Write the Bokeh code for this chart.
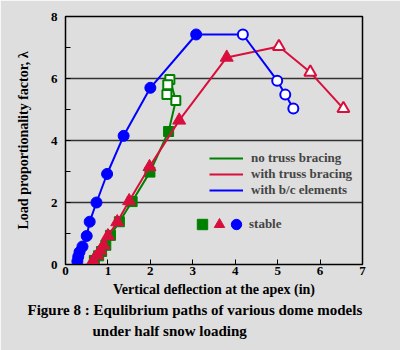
from bokeh.plotting import figure
from bokeh.models import Legend, LegendItem, Title, FixedTicker, Range1d
from bokeh.embed import file_html
from bokeh.resources import INLINE

# ---- data ----
green_x = [0.68, 0.78, 0.85, 0.95, 1.06, 1.27, 1.57, 1.99, 2.43, 2.60, 2.46, 2.41, 2.39]
green_y = [0.13, 0.28, 0.42, 0.62, 0.94, 1.38, 2.03, 2.98, 4.29, 5.29, 5.97, 5.80, 5.48]
green_stable = [1, 1, 1, 1, 1, 1, 1, 1, 1, 0, 0, 0, 0]

red_x = [0.65, 0.75, 0.82, 0.90, 1.00, 1.22, 1.50, 1.98, 2.68, 3.80, 5.03, 5.77, 6.55]
red_y = [0.12, 0.30, 0.45, 0.62, 0.92, 1.37, 2.05, 3.15, 4.65, 6.68, 7.03, 6.20, 5.03]
red_stable = [1, 1, 1, 1, 1, 1, 1, 1, 1, 1, 0, 0, 0]

blue_x = [0.28, 0.30, 0.33, 0.40, 0.50, 0.57, 0.73, 0.98, 1.37, 2.00, 3.08, 4.18, 4.99, 5.18, 5.37]
blue_y = [0.10, 0.25, 0.40, 0.58, 0.92, 1.38, 2.00, 2.92, 4.15, 5.70, 7.42, 7.42, 5.93, 5.48, 5.03]
blue_stable = [1, 1, 1, 1, 1, 1, 1, 1, 1, 1, 1, 0, 0, 0, 0]

series_names = ["no truss bracing", "with truss bracing", "with b/c elements"]
stable_label = "stable"
x_ticks = [0, 1, 2, 3, 4, 5, 6, 7]
y_ticks = [0, 2, 4, 6, 8]
y_minor = [1, 3, 5, 7]
grid_vals = [2, 4, 6]
caption = ["Figure 8 : Equlibrium paths of various dome models", "under half snow loading"]

BG = "#DEDEDE"
GREEN = "#008000"
RED = "#D80F3C"
BLUE = "#0000FF"
FONT = "Liberation Serif"


def split(xs, ys, flags, want):
    return [x for x, f in zip(xs, flags) if f == want], [y for y, f in zip(ys, flags) if f == want]


p = figure(width=400, height=350, x_range=Range1d(0, 7), y_range=Range1d(0, 8),
           output_backend="svg", toolbar_location=None,
           min_border_left=65, min_border_right=38, min_border_top=16, min_border_bottom=86)
p.background_fill_color = BG
p.border_fill_color = BG
p.outline_line_color = "black"
p.outline_line_width = 1.5

p.xgrid.visible = False
p.ygrid.ticker = FixedTicker(ticks=grid_vals)
p.ygrid.grid_line_color = "#333333"
p.ygrid.grid_line_width = 1.5

p.xaxis.ticker = FixedTicker(ticks=x_ticks)
p.yaxis.ticker = FixedTicker(ticks=y_ticks, minor_ticks=y_minor)
for ax in (p.xaxis[0], p.yaxis[0]):
    ax.major_tick_in = 5
    ax.major_tick_out = 0
    ax.minor_tick_in = 5
    ax.minor_tick_out = 0
    ax.axis_line_color = "black"
    ax.major_tick_line_color = "black"
    ax.minor_tick_line_color = "black"
    ax.major_label_text_font = FONT
    ax.major_label_text_font_style = "bold"
    ax.major_label_text_font_size = "13px"
    ax.major_label_text_color = "black"
    ax.axis_label_text_font = FONT
    ax.axis_label_text_font_style = "bold"
    ax.axis_label_text_font_size = "14px"
    ax.axis_label_text_color = "black"
p.xaxis.minor_tick_line_color = None
p.xaxis.major_label_standoff = 2
p.xaxis.axis_label_standoff = 4
p.yaxis.major_label_standoff = 8
p.yaxis.axis_label_standoff = 17
p.xaxis.axis_label = "Vertical deflection at the apex (in)"
p.yaxis.axis_label = "Load proportionality factor, \u03bb"

# green: no truss bracing
g_line = p.line(green_x, green_y, line_color=GREEN, line_width=2)
gx, gy = split(green_x, green_y, green_stable, 1)
g_fill = p.scatter(gx, gy, marker="square", size=10, fill_color=GREEN, line_color=GREEN)
gx, gy = split(green_x, green_y, green_stable, 0)
p.scatter(gx, gy, marker="square", size=9, fill_color="white", line_color=GREEN, line_width=2)

# red: with truss bracing
r_line = p.line(red_x, red_y, line_color=RED, line_width=2)
rx, ry = split(red_x, red_y, red_stable, 1)
r_fill = p.scatter(rx, ry, marker="triangle", size=13, fill_color=RED, line_color=RED)
rx, ry = split(red_x, red_y, red_stable, 0)
p.scatter(rx, ry, marker="triangle", size=12, fill_color="white", line_color=RED, line_width=2)

# blue: with b/c elements
b_line = p.line(blue_x, blue_y, line_color=BLUE, line_width=2)
bx, by = split(blue_x, blue_y, blue_stable, 1)
b_fill = p.scatter(bx, by, marker="circle", size=11, fill_color=BLUE, line_color=BLUE)
bx, by = split(blue_x, blue_y, blue_stable, 0)
p.scatter(bx, by, marker="circle", size=10, fill_color="white", line_color=BLUE, line_width=2)

leg_style = dict(background_fill_alpha=0, border_line_alpha=0, padding=0, margin=0, spacing=0,
                 label_text_font=FONT, label_text_font_style="bold", label_text_font_size="13px")

leg = Legend(items=[LegendItem(label=series_names[0], renderers=[g_line]),
                    LegendItem(label=series_names[1], renderers=[r_line]),
                    LegendItem(label=series_names[2], renderers=[b_line])],
             location=(144, 66), orientation="vertical",
             glyph_width=34, glyph_height=16, label_height=16, label_standoff=8, **leg_style)
p.add_layout(leg)

# "stable" key: three markers side by side, then the label
for i, (rend, lab) in enumerate([(g_fill, " "), (r_fill, " "), (b_fill, stable_label)]):
    lg = Legend(items=[LegendItem(label=lab, renderers=[rend])],
                location=(124 + 17 * i, 27), orientation="horizontal",
                glyph_width=26, glyph_height=26, label_height=16, label_width=0,
                label_standoff=0, **leg_style)
    p.add_layout(lg)

t1 = Title(text=caption[0], align="left", offset=-38, standoff=1,
           text_font=FONT, text_font_style="bold", text_font_size="15px", text_color="black")
t2 = Title(text=caption[1], align="left", offset=27, standoff=5,
           text_font=FONT, text_font_style="bold", text_font_size="15px", text_color="black")
p.add_layout(t1, "below")
p.add_layout(t2, "below")

open("out.html", "w").write(file_html(p, INLINE))
